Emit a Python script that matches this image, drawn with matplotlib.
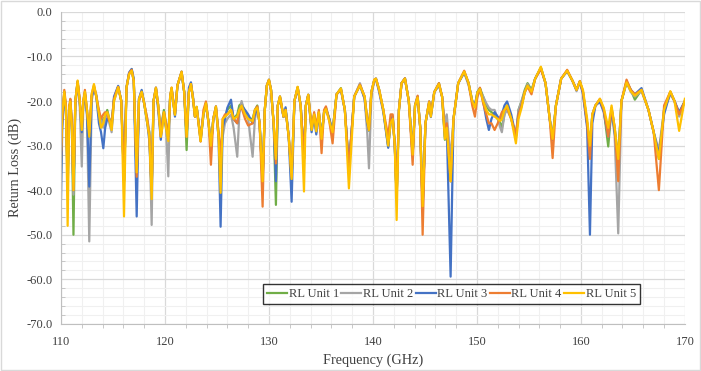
#! /usr/bin/env python
#
#   return loss of five units, 110-170 GHz
#
import matplotlib
matplotlib.use('agg')
import matplotlib.pyplot as plt
from matplotlib.ticker import MultipleLocator, FormatStrFormatter
from matplotlib.patches import Rectangle

plt.rcParams['font.family'] = ['Liberation Serif', 'DejaVu Serif']
plt.rcParams['axes.unicode_minus'] = False

freq = [
    110.0, 110.12, 110.32, 110.48, 110.64, 110.8, 110.9, 111.05, 111.2, 111.38,
    111.6, 111.8, 112.0, 112.15, 112.3, 112.5, 112.72, 112.95, 113.17, 113.4,
    113.65, 113.85, 114.07, 114.25, 114.45, 114.65, 114.87, 115.1, 115.5, 115.8,
    116.06, 116.3, 116.55, 116.8, 117.0, 117.28, 117.5, 117.76, 118.0, 118.3,
    118.5, 118.72, 118.9, 119.13, 119.35, 119.6, 119.75, 119.9, 120.1, 120.32,
    120.5, 120.64, 120.8, 120.96, 121.2, 121.6, 121.85, 122.08, 122.3, 122.5,
    122.7, 122.88, 123.05, 123.43, 123.7, 123.94, 124.2, 124.42, 124.65, 124.9,
    125.15, 125.35, 125.55, 125.77, 126.0, 126.35, 126.6, 126.95, 127.15, 127.37,
    127.7, 128.0, 128.43, 128.65, 128.88, 129.1, 129.39, 129.6, 129.8, 130.0,
    130.2, 130.45, 130.67, 130.85, 131.06, 131.4, 131.6, 131.9, 132.18, 132.45,
    132.76, 133.05, 133.37, 133.55, 133.78, 134.1, 134.35, 134.55, 134.8, 135.06,
    135.3, 135.48, 135.8, 136.12, 136.5, 136.92, 137.3, 137.69, 138.2, 138.75,
    139.2, 139.45, 139.62, 139.85, 140.13, 140.29, 140.6, 141.0, 141.47, 141.7,
    141.9, 142.1, 142.28, 142.5, 142.75, 143.08, 143.45, 143.82, 144.05, 144.3,
    144.55, 144.78, 145.05, 145.41, 145.57, 145.9, 146.35, 146.65, 146.92, 147.1,
    147.47, 147.75, 148.2, 148.78, 149.2, 149.55, 149.81, 150.05, 150.29, 150.6,
    150.9, 151.15, 151.4, 151.7, 152.0, 152.25, 152.4, 152.65, 152.9, 153.3,
    153.75, 154.0, 154.3, 154.6, 154.87, 155.25, 155.6, 156.15, 156.6, 157.0,
    157.28, 157.6, 158.1, 158.68, 159.2, 159.58, 159.9, 160.2, 160.6, 160.87,
    161.1, 161.4, 161.83, 162.2, 162.63, 162.95, 163.25, 163.59, 163.9, 164.39,
    164.8, 165.19, 165.83, 166.5, 167.0, 167.5, 168.0, 168.6, 169.0, 169.45, 170.0,
]

rl_unit1 = [
    -36, -24, -18, -22, -38, -22, -20, -26, -50, -20,
    -15.8, -20, -27, -20, -18, -22, -28, -19, -16.8, -19,
    -23, -25, -24, -23.5, -22, -24, -25, -19.5, -16.8, -20,
    -38, -17, -13.8, -12.9, -15.5, -38, -20, -17.9, -20.5, -25,
    -27, -40, -20, -17, -21, -27.5, -24, -22, -25, -28.5,
    -19, -17.1, -20.5, -23, -16.5, -13.4, -18, -31, -18, -16.2,
    -19.5, -23.5, -21.3, -29, -23, -20.5, -25, -30, -24, -21.2,
    -27, -33, -26, -23.5, -22, -21, -24, -23, -21, -20.5,
    -22.5, -24, -24, -22, -21, -25, -38, -22, -16.5, -15.2,
    -17.5, -25, -43.3, -21, -19, -23.5, -22, -28, -37, -20,
    -16.9, -21, -33, -21, -18.6, -26, -23, -26, -22.5, -28,
    -22.5, -21.5, -24, -27, -18.5, -17.1, -22, -35, -19, -16.4,
    -19, -24, -26.7, -18, -15.3, -15, -17.5, -22, -30.2, -24,
    -23.5, -30, -41.7, -22, -16, -14.9, -20, -32, -21, -19,
    -26, -44, -25, -20.1, -23, -18, -16, -19, -28.7, -25,
    -38, -24, -16, -13.4, -16, -20, -21, -18, -17.1, -19,
    -21, -22, -22.5, -23, -24, -25, -26, -23, -21, -24,
    -28, -22, -20, -17.5, -16, -17.5, -15, -12.5, -16, -24,
    -28.7, -21, -15, -13.2, -15.5, -17.5, -15.6, -18, -25, -30,
    -23, -21, -19.7, -22, -30.2, -21.6, -26, -33, -20, -15.6,
    -17.5, -19.7, -17.5, -22, -27, -33, -22, -18, -20, -23, -20,
]

rl_unit2 = [
    -30, -23, -18.5, -23, -36, -21, -20.5, -27, -41, -21,
    -16, -21, -34.7, -21, -18.5, -23, -51.5, -20, -17, -18.5,
    -23, -24, -26, -24.5, -23, -25, -27, -20, -17, -20,
    -38, -17, -14, -13.3, -15.5, -37, -19.5, -17.8, -20.5, -24,
    -27, -47.8, -20, -17, -21, -27, -24, -23, -26, -36.9,
    -19, -17.3, -20, -23, -16.5, -13.6, -18, -28, -18, -16.5,
    -19, -23, -21.5, -28, -23, -21, -25, -30, -24, -21.5,
    -28, -34, -28, -25, -24, -23, -26, -32.5, -23, -20,
    -23, -24, -32.5, -24, -21.5, -25, -37, -22, -16.5, -15.3,
    -17.5, -25, -35, -21, -19, -23.5, -21.7, -28, -37, -20,
    -17, -21, -33, -21, -18.8, -26.5, -23, -27, -22.5, -28,
    -23, -21.5, -24, -27, -18.5, -17.3, -22, -35, -19, -16,
    -19.5, -27, -35.1, -19, -15.3, -14.9, -17.5, -22, -30, -25,
    -23.5, -30, -41.7, -22, -16, -15, -20, -32, -21, -19.5,
    -26, -43.6, -25, -20.1, -23.3, -18, -16.2, -19, -25, -23,
    -33, -24, -16, -13.6, -16.5, -20, -21, -19, -17.8, -19,
    -20.5, -21.5, -22, -22, -24, -26, -27, -23, -22, -24,
    -28, -22, -20, -18, -16.2, -18, -15, -12.7, -16, -24,
    -28, -21, -15, -13.2, -15.5, -17.8, -15.8, -18, -25, -30,
    -23, -21, -20, -22, -28, -22, -28, -49.7, -20, -15.8,
    -18, -19, -17.8, -22, -27, -31, -22, -18.5, -20, -23.5, -20,
]

rl_unit3 = [
    -42, -26, -18, -22, -40, -22, -20, -25, -40, -20,
    -15.6, -20, -27, -20.5, -18.5, -23, -39.2, -19, -17.2, -19,
    -25, -27, -30.6, -26, -24, -24, -26, -19, -16.6, -20,
    -38, -17, -13.6, -12.8, -15, -45.9, -19.5, -17.5, -20.5, -25,
    -29, -40, -20, -17.3, -22, -28.7, -25, -23, -26, -28,
    -19, -17.5, -20, -23.5, -16.5, -13.6, -18, -27.9, -17, -15.8,
    -19.5, -23.5, -21.5, -28.5, -23, -20.5, -25, -30, -24, -21.5,
    -28, -48.2, -26, -24, -21.5, -19.7, -24, -25, -22, -21,
    -22, -23, -25, -23, -21.5, -25, -38, -22, -16.5, -15.5,
    -17.5, -25, -38, -21, -19.3, -23.6, -21.4, -28, -42.6, -20,
    -17.2, -21, -33, -21, -18.6, -27, -23.5, -27.5, -23, -28,
    -22.5, -21.8, -24, -27, -18.5, -17.5, -22, -35, -19, -16.5,
    -19.5, -25, -26.5, -18, -15.4, -15.1, -18, -22.5, -30.5, -24.5,
    -23.5, -30, -42, -22, -16, -15, -20, -32, -21, -19,
    -26, -44, -25, -20.5, -23.6, -18, -16.5, -19, -28, -26,
    -59.4, -24, -16, -13.6, -16, -20, -21, -18, -17.2, -20,
    -24, -26.5, -24, -22.5, -23.5, -24, -23, -21, -20.1, -23,
    -28, -23, -21, -18, -16.5, -18, -15, -12.6, -16, -24,
    -28.7, -21, -15, -13.3, -15.5, -17.5, -15.6, -18.5, -26, -50,
    -25, -21, -20.2, -22.5, -28, -22, -27, -33, -20, -15.8,
    -17.5, -18.5, -17.1, -22, -27, -32, -23, -18, -20, -22.5, -20,
]

rl_unit4 = [
    -33, -24, -17.5, -21, -37, -21, -19.5, -25, -40, -20,
    -15.6, -19.5, -26, -20, -17.5, -22, -27, -18.5, -16.5, -19,
    -22, -24, -23, -22.5, -23, -24.5, -25, -19.5, -16.8, -20,
    -38, -17, -13.8, -13, -15.5, -37, -20, -18, -20.5, -24,
    -28, -40, -20, -17, -21, -28, -25, -22.5, -25, -28,
    -19, -17, -20, -23, -16.5, -13.4, -18, -28, -18, -16.2,
    -19.5, -23.5, -21.5, -29.1, -22, -20.1, -25, -34.3, -24, -21.2,
    -27, -33, -24, -23, -23, -22, -24, -25, -22, -21.5,
    -24, -25.5, -25, -22, -21.2, -25, -43.7, -22, -16.5, -15.2,
    -17.5, -25, -34, -21, -19, -23.5, -22, -28, -37, -20,
    -16.9, -21, -33, -21, -18.6, -26, -22.5, -26, -22, -31.7,
    -22, -21.2, -24.5, -29.5, -18.5, -17.3, -22, -35, -19, -16.3,
    -19, -24, -26.5, -18, -15.2, -15, -17.5, -22, -28, -23,
    -23, -30, -41.7, -22, -16, -14.9, -20, -34.3, -21, -18.8,
    -26, -50, -25, -20.1, -23, -18, -16, -19, -27, -25,
    -38, -24, -16, -13.2, -16, -21, -23.5, -19, -17, -20.5,
    -23, -25, -25, -26.5, -25, -23.5, -22.5, -22, -21.5, -24,
    -27.5, -23, -21, -18, -16.8, -18.5, -15, -12.8, -16, -24,
    -32.8, -21, -15, -13, -15.5, -17.5, -15.5, -18, -25, -33,
    -23, -21, -19.5, -22, -28, -21.6, -26, -38, -20, -15.2,
    -17.5, -18.5, -17.5, -22, -27, -40, -21, -17.9, -20, -23, -20,
]

rl_unit5 = [
    -31, -23, -17.9, -22, -48, -21.5, -20.1, -26, -40, -20,
    -15.4, -20, -26.5, -20, -17.9, -22, -28, -18.5, -16.2, -19,
    -23, -26, -25, -23, -22.5, -24, -26.5, -20, -16.9, -20,
    -45.9, -17, -14, -13.2, -15.5, -36, -19.5, -17.9, -20.5, -25,
    -28, -42, -20, -17.1, -21, -28, -26, -22.5, -26, -29,
    -19, -17, -20.5, -23.1, -16.5, -13.5, -18, -28, -18, -16.2,
    -19.5, -23.5, -21.3, -29, -23, -20.5, -25, -30, -24, -21.3,
    -28, -40.6, -24, -23.5, -23, -22, -24, -23.5, -22, -21,
    -23, -24, -24.5, -22, -21.5, -25, -38, -22, -16.5, -15.3,
    -17.5, -25, -33, -21, -19, -23.5, -22, -28, -37.5, -20,
    -16.8, -21, -40.3, -21, -18.6, -26.5, -23, -26.8, -22.5, -28.5,
    -22.5, -21.8, -24.5, -27, -18.5, -17.2, -22, -39.6, -19, -16.5,
    -19, -24.5, -26.5, -18, -15.2, -15, -17.5, -22, -30, -25,
    -24, -30, -46.7, -22, -16, -15, -20, -32, -21, -19.2,
    -26, -43.6, -25, -20.3, -23.5, -18, -16.2, -19, -28.5, -26,
    -38, -24, -16, -13.4, -16, -20, -21.5, -18, -17.3, -20,
    -22, -23, -23, -23.5, -24, -24.5, -24, -22, -21, -24,
    -29.5, -24, -21.5, -18, -16.5, -17.9, -15, -12.3, -16, -24,
    -28.5, -21, -15, -13.2, -15.5, -17.5, -15.6, -17.5, -24, -30,
    -23, -21, -19.5, -21.5, -26, -21, -26, -33, -20, -15.8,
    -17.8, -18.8, -17.5, -22, -27, -33, -22, -17.8, -20, -26.7, -19.5,
]

labels = ["RL Unit 1", "RL Unit 2", "RL Unit 3", "RL Unit 4", "RL Unit 5"]
colors = ["#70AD47", "#A5A5A5", "#4472C4", "#ED7D31", "#FFC000"]
series = [rl_unit1, rl_unit2, rl_unit3, rl_unit4, rl_unit5]

fig = plt.figure(figsize=(7.01, 3.71), dpi=100)
ax = fig.add_axes([0.087, 0.127, 0.890, 0.841])

for vals, lab, col in zip(series, labels, colors):
    ax.plot(freq, vals, color=col, lw=1.6, label=lab, solid_joinstyle='round')

ax.set_xlim(110, 170)
ax.set_ylim(-70, 0)
ax.xaxis.set_major_locator(MultipleLocator(10))
ax.xaxis.set_minor_locator(MultipleLocator(2))
ax.yaxis.set_major_locator(MultipleLocator(10))
ax.yaxis.set_minor_locator(MultipleLocator(2))
ax.yaxis.set_major_formatter(FormatStrFormatter('%.1f'))

ax.grid(which='major', color='#D9D9D9', lw=0.9)
ax.grid(which='minor', color='#F0F0F0', lw=0.8)
ax.set_axisbelow(True)

for s in ['top', 'right']:
    ax.spines[s].set_visible(False)
for s in ['left', 'bottom']:
    ax.spines[s].set_color('#BFBFBF')

ax.tick_params(which='major', length=0, labelsize=9, colors='#404040')
ax.tick_params(axis='x', which='major', pad=9)
ax.tick_params(axis='y', which='major', pad=6)
ax.tick_params(which='minor', length=3, color='#BFBFBF')
ax.tick_params(axis='y', which='minor', direction='in')

ax.set_xlabel("Frequency (GHz)", fontsize=10.3, color='#404040', labelpad=4)
ax.set_ylabel("Return Loss (dB)", fontsize=10.3, color='#404040', labelpad=3)

leg = ax.legend(loc='center', bbox_to_anchor=(0.626, 0.095), ncol=5,
                fontsize=9, frameon=True, fancybox=False, handlelength=1.6,
                handletextpad=0.12, columnspacing=0.2, borderpad=0.3,
                borderaxespad=0)
leg.get_frame().set_edgecolor('black')
leg.get_frame().set_linewidth(1.0)
for t in leg.get_texts():
    t.set_color('#404040')

fig.patches.append(Rectangle((0.001, 0.002), 0.997, 0.995, transform=fig.transFigure,
                             fill=False, edgecolor='#D9D9D9', lw=1.0))

plt.savefig("out.png", dpi=100)
print("Wrote out.png")
